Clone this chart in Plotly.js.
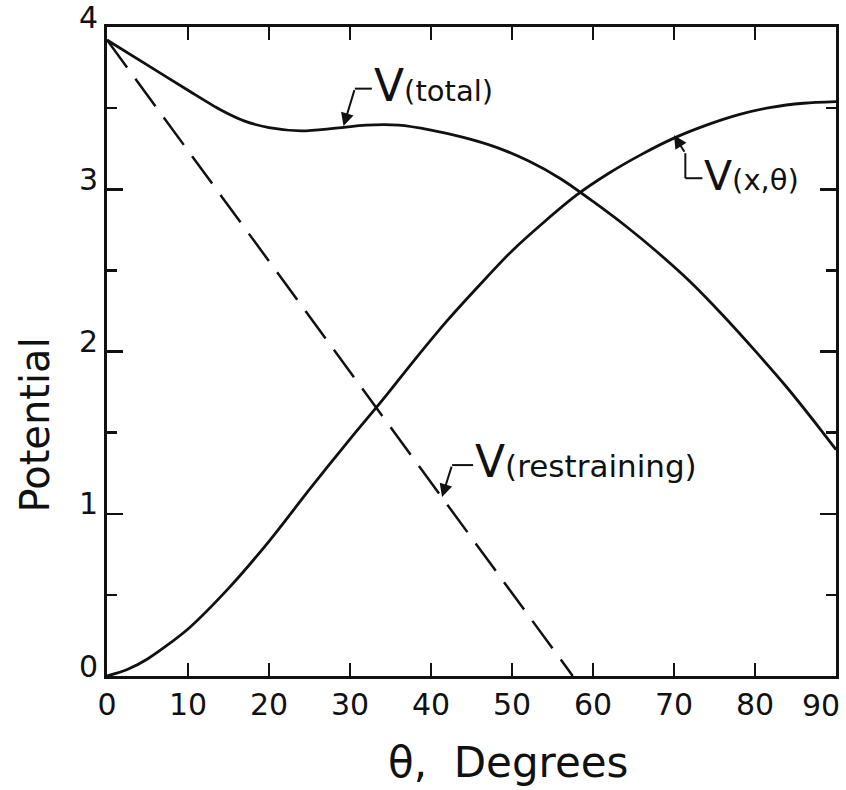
<!DOCTYPE html>
<html>
<head>
<meta charset="utf-8">
<script src="https://cdn.plot.ly/plotly-3.0.1.min.js"></script>
<style>html,body{margin:0;padding:0;background:#fff;}</style>
</head>
<body>
<div id="chart" style="width:846px;height:790px;"></div>
<script>
// Data
const thetaTotal = [0, 5, 10, 14, 17, 20, 24, 28, 32, 36, 40, 44, 48, 52, 56, 60, 64, 68, 72, 76, 80, 84, 88, 90];
const vTotal     = [3.92, 3.765, 3.61, 3.49, 3.42, 3.38, 3.36, 3.375, 3.395, 3.395, 3.365, 3.32, 3.26, 3.175, 3.065, 2.925, 2.775, 2.61, 2.43, 2.225, 2.005, 1.775, 1.525, 1.395];

const thetaXT = [0, 2.5, 5, 10, 15, 20, 25, 30, 34, 38, 42, 46, 50, 54, 58, 62, 66, 70, 74, 78, 82, 86, 90];
const vXT     = [0, 0.04, 0.105, 0.29, 0.54, 0.83, 1.15, 1.46, 1.70, 1.95, 2.19, 2.41, 2.62, 2.80, 2.965, 3.10, 3.215, 3.315, 3.395, 3.46, 3.505, 3.53, 3.54];

const thetaRestr = [0, 57.5];
const vRestr     = [3.92, 0];

const xTickVals = [0, 10, 20, 30, 40, 50, 60, 70, 80, 90];
// last label is drawn as an annotation, nudged left to stay inside the page as in the original
const xTickText = ["0", "10", "20", "30", "40", "50", "60", "70", "80", ""];
const lastXTick = {value: 90, text: "90"};
const yTickVals = [0, 1, 2, 3, 4];

const FONT = "DejaVu Sans";

const traces = [
  {x: thetaTotal, y: vTotal, mode: "lines", line: {color: "#111", width: 2.8, shape: "spline", smoothing: 0.8}, hoverinfo: "skip"},
  {x: thetaXT, y: vXT, mode: "lines", line: {color: "#111", width: 2.8, shape: "spline", smoothing: 0.8}, hoverinfo: "skip"},
  {x: thetaRestr, y: vRestr, mode: "lines", line: {color: "#111", width: 2.5, dash: "34px,14px"}, hoverinfo: "skip"}
];

// leader lines (elbows) for the labels
const seg = (x0, y0, x1, y1) => ({type: "line", xref: "x", yref: "y", x0, y0, x1, y1, line: {color: "#111", width: 2}});
const shapes = [
  seg(30.6, 3.62, 32.7, 3.62),
  seg(71.4, 3.222, 71.4, 3.068),
  seg(71.4, 3.068, 73.5, 3.068),
  seg(42.6, 1.30, 45.2, 1.30)
];

const arrow = (x, y, ax, ay) => ({
  x, y, ax, ay, xref: "x", yref: "y", axref: "x", ayref: "y",
  text: "", showarrow: true, arrowhead: 2, arrowsize: 1.3, arrowwidth: 2, arrowcolor: "#111"
});

const label = (x, y, bigV, rest, restSize) => ({
  x, y, xref: "x", yref: "y", xanchor: "left", yanchor: "middle", showarrow: false,
  text: "<span style='font-size:" + bigV + "px'>V</span><span style='font-size:" + restSize + "px'>" + rest + "</span>",
  font: {family: FONT, size: restSize, color: "#111"}
});

const annotations = [
  arrow(29.2, 3.39, 30.6, 3.62),
  arrow(70.0, 3.333, 71.4, 3.222),
  arrow(41.36, 1.103, 42.6, 1.30),
  label(32.7, 3.64, 44, "(total)", 29),
  label(73.5, 3.08, 41, "(x,θ)", 29),
  label(45.2, 1.32, 44, "(restraining)", 31),
  {x: lastXTick.value, y: -0.0447, xref: "x", yref: "paper", xanchor: "right", yanchor: "middle", xshift: 6,
   showarrow: false, text: lastXTick.text, font: {family: FONT, size: 30, color: "#111"}},
  {x: 0.5514, y: -0.133, xref: "paper", yref: "paper", xanchor: "center", yanchor: "middle", showarrow: false,
   text: "θ,  Degrees", font: {family: FONT, size: 42, color: "#111"}},
  {x: -0.0988, y: 0.3875, xref: "paper", yref: "paper", xanchor: "center", yanchor: "middle", showarrow: false,
   textangle: -90, text: "Potential", font: {family: FONT, size: 40, color: "#111"}}
];

const layout = {
  width: 846, height: 790,
  margin: {l: 107, r: 10, t: 27, b: 114},
  paper_bgcolor: "#fff", plot_bgcolor: "#fff",
  showlegend: false,
  font: {family: FONT, color: "#111"},
  xaxis: {
    range: [0, 90], tickvals: xTickVals, ticktext: xTickText, ticks: "inside", ticklen: 13, tickwidth: 2.5, tickcolor: "#111",
    showline: true, linewidth: 3, linecolor: "#111", mirror: "ticks",
    showgrid: false, zeroline: false, ticklabeloverflow: "allow",
    tickfont: {family: FONT, size: 30, color: "#111"}
  },
  yaxis: {
    range: [0, 4], tickvals: yTickVals, ticks: "inside", ticklen: 16, tickwidth: 2.5, tickcolor: "#111",
    minor: {dtick: 0.5, ticks: "inside", ticklen: 10, tickwidth: 2.5, tickcolor: "#111", showgrid: false},
    showline: true, linewidth: 3, linecolor: "#111", mirror: "ticks",
    showgrid: false, zeroline: false, ticklabelshift: -10, ticklabeloverflow: "allow",
    tickfont: {family: FONT, size: 30, color: "#111"}
  },
  shapes, annotations
};

Plotly.newPlot("chart", traces, layout, {staticPlot: true, displayModeBar: false});
</script>
</body>
</html>
